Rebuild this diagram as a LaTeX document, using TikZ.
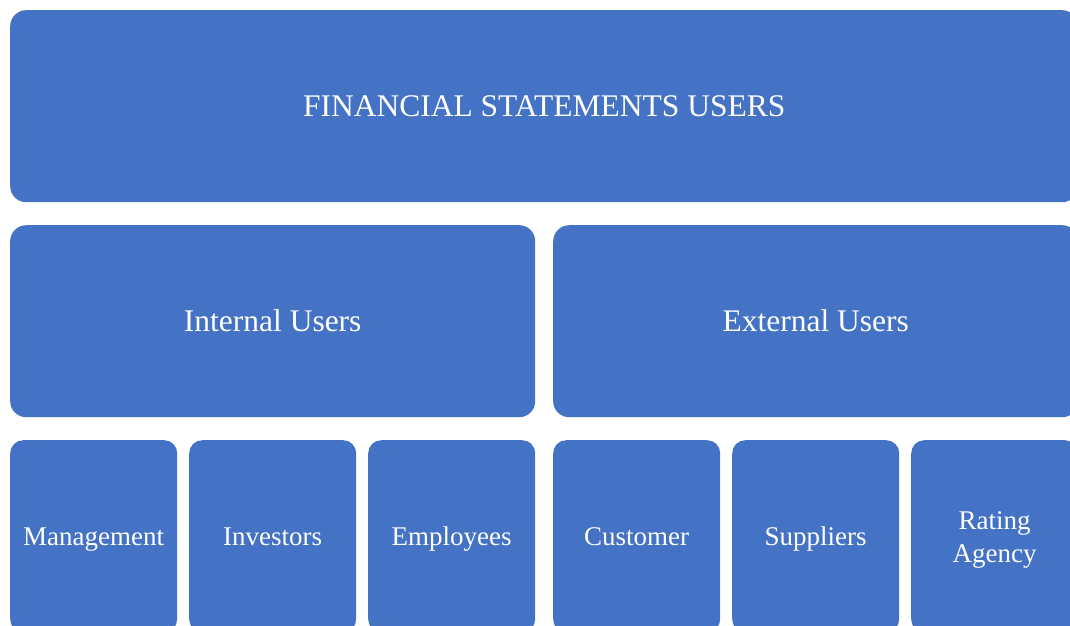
\documentclass[tikz,border=0pt]{standalone}
\usepackage{fontspec}
\setmainfont{Liberation Serif}
\definecolor{boxblue}{HTML}{4472C4}
\newcommand\bigstr{\rule[-7.6pt]{0pt}{35.6pt}}
\newcommand\smallstr{\rule[-6.8pt]{0pt}{32.8pt}}
\tikzset{
  ubox/.style={draw=none, fill=boxblue, text=white, rounded corners=16pt, anchor=north west,
    inner sep=0pt, align=center, font=\fontsize{31.5}{36}\selectfont},
  sbox/.style={ubox, rounded corners=13pt, font=\fontsize{27}{33}\selectfont}
}
\begin{document}
\begin{tikzpicture}[x=1pt,y=-1pt]
\useasboundingbox (0,0) rectangle (1070,625);
\clip (0,0) rectangle (1070,625);
\node[ubox, minimum width=1068pt, minimum height=192pt] (top) at (10,10) {\bigstr FINANCIAL STATEMENTS USERS};
\node[ubox, minimum width=525pt, minimum height=192pt] (int) at (10,225) {\bigstr Internal Users};
\node[ubox, minimum width=525pt, minimum height=192pt] (ext) at (553,225) {\bigstr External Users};
\node[sbox, minimum width=167pt, minimum height=192pt] (man) at (10,440) {\smallstr Management};
\node[sbox, minimum width=167pt, minimum height=192pt] (inv) at (189,440) {\smallstr Investors};
\node[sbox, minimum width=167pt, minimum height=192pt] (emp) at (368,440) {\smallstr Employees};
\node[sbox, minimum width=167pt, minimum height=192pt] (cus) at (553,440) {\smallstr Customer};
\node[sbox, minimum width=167pt, minimum height=192pt] (sup) at (732,440) {\smallstr Suppliers};
\node[sbox, minimum width=167pt, minimum height=192pt] (rat) at (911,440) {\smallstr Rating\\\smallstr Agency};
\end{tikzpicture}
\end{document}
